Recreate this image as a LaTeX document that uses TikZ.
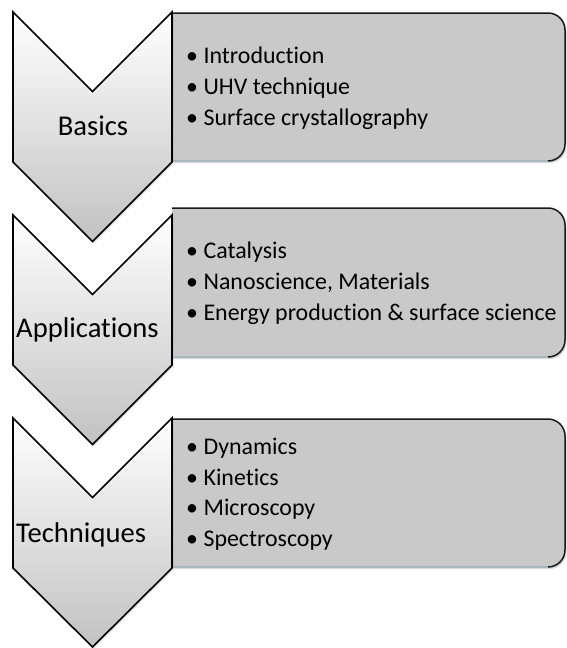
\documentclass[tikz,border=0pt]{standalone}
\usepackage{fontspec}
\setmainfont{Carlito}[Ligatures=NoCommon]
\usetikzlibrary{shadows}
\definecolor{boxgray}{RGB}{201,201,201}
\definecolor{boxedge}{RGB}{165,185,190}
\begin{document}
\begin{tikzpicture}[x=1pt,y=-1pt,
  chev/.style={draw=black,line width=1.6pt,line join=miter,top color=white,bottom color=black!24,
    drop shadow={shadow xshift=1.5pt,shadow yshift=-1.5pt,opacity=0.25}},
  boxbody/.style={fill=boxgray,drop shadow={shadow xshift=1.5pt,shadow yshift=-2pt,opacity=0.3}},
  boxline/.style={draw=black!90,line width=1.5pt},
  boxbottom/.style={draw=boxedge,line width=1.8pt},
  lbl/.style={font=\fontsize{28.6}{34}\selectfont,inner sep=0pt},
  item/.style={font=\fontsize{23.9}{28}\selectfont,inner sep=0pt,anchor=base west}]
\useasboundingbox (0,0) rectangle (566,648);
% ---- boxes ----
\foreach \t/\b in {13/161, 208/357, 419/567}{
  \path[boxbody] (172,\t) -- (548,\t) arc(-90:0:17) -- (565,\b-17) arc(0:90:17) -- (172,\b) -- cycle;
  \draw[boxbottom] (172,\b) -- (548,\b);
  \draw[boxline] (172,\t) -- (548,\t) arc(-90:0:17) -- (565,\b-17) arc(0:90:17);
}
% ---- chevrons ----
\draw[chev] (13,12) -- (92.5,91.5) -- (172,12) -- (172,162) -- (92.5,241.5) -- (13,162) -- cycle;
\draw[chev] (13,215) -- (92.5,294.5) -- (172,215) -- (172,365) -- (92.5,444.5) -- (13,365) -- cycle;
\draw[chev] (13,418) -- (92.5,497.5) -- (172,418) -- (172,568) -- (92.5,647) -- (13,568) -- cycle;
% ---- labels ----
\node[lbl,anchor=base] (basics) at (93,135) {Basics};
\node[lbl,anchor=base west] (appl) at (16,337) {Applications};
\node[lbl,anchor=base west] (tech) at (16,542) {Techniques};
% ---- items ----
\node[item] (i1) at (186,63) {•\hspace{0.23em}Introduction};
\node[item] (i2) at (186,94) {•\hspace{0.23em}UHV technique};
\node[item] (i3) at (186,125) {•\hspace{0.23em}Surface crystallography};
\node[item] (a1) at (186,258) {•\hspace{0.23em}Catalysis};
\node[item] (a2) at (186,289) {•\hspace{0.23em}Nanoscience, Materials};
\node[item] (a3) at (186,320) {•\hspace{0.23em}Energy production \& surface science};
\node[item] (t1) at (186,454) {•\hspace{0.23em}Dynamics};
\node[item] (t2) at (186,485) {•\hspace{0.23em}Kinetics};
\node[item] (t3) at (186,515) {•\hspace{0.23em}Microscopy};
\node[item] (t4) at (186,546) {•\hspace{0.23em}Spectroscopy};
\end{tikzpicture}
\end{document}
